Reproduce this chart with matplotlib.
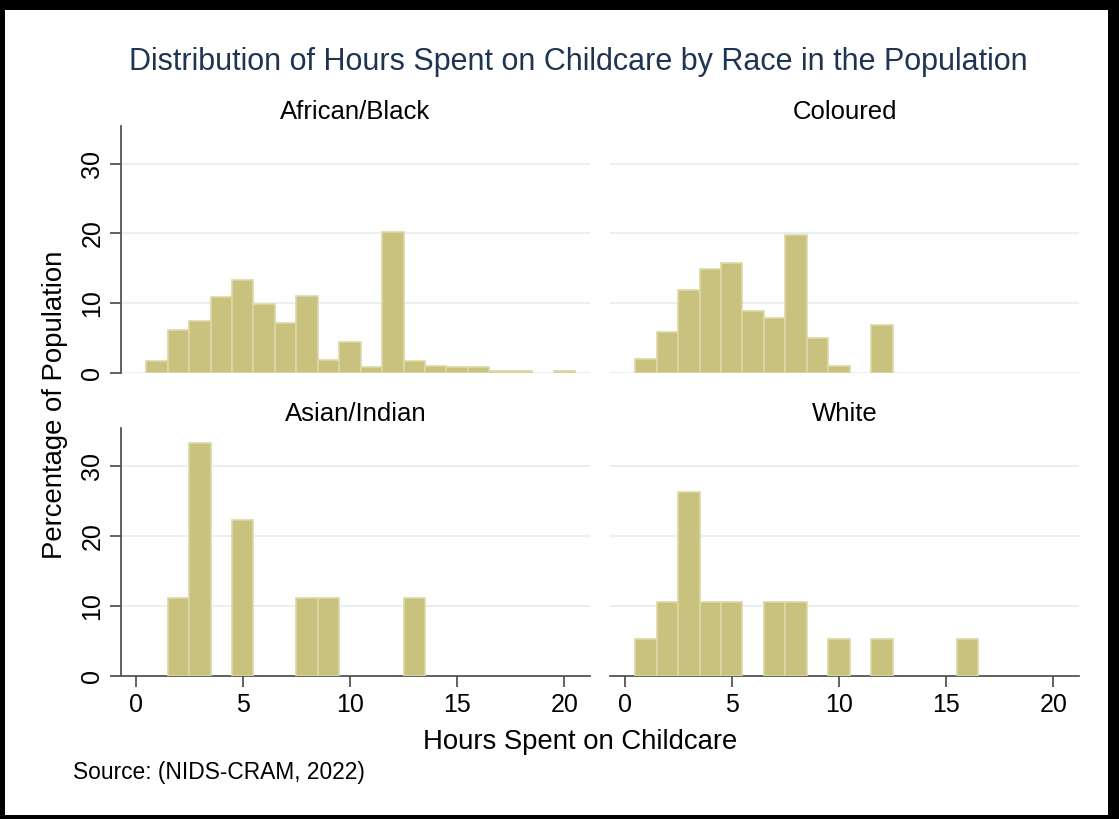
import matplotlib.pyplot as plt
from matplotlib.patches import Rectangle
import numpy as np

plt.rcParams['font.family'] = ['Liberation Sans', 'DejaVu Sans']

hours = np.arange(1, 21)

# percentages per hour bin (1..20)
african_black = [1.7, 6.2, 7.5, 10.9, 13.4, 9.9, 7.1, 11.0, 1.8, 4.5,
                 0.8, 20.2, 1.7, 1.05, 0.8, 0.8, 0.25, 0.33, 0.0, 0.33]
coloured = [2.0, 5.9, 11.9, 14.9, 15.8, 8.9, 7.9, 19.8, 5.0, 1.0,
            0, 6.9, 0, 0, 0, 0, 0, 0, 0, 0]
asian_indian = [0, 11.1, 33.3, 0, 22.2, 0, 0, 11.1, 11.1, 0,
                0, 0, 11.1, 0, 0, 0, 0, 0, 0, 0]
white = [5.3, 10.5, 26.3, 10.5, 10.5, 0, 10.5, 10.5, 0, 5.3,
         0, 5.3, 0, 0, 0, 5.3, 0, 0, 0, 0]

panels = [('African/Black', african_black), ('Coloured', coloured),
          ('Asian/Indian', asian_indian), ('White', white)]

W, H = 1119, 819
fig = plt.figure(figsize=(W / 100, H / 100), dpi=100)

# pixel boxes: left, top, right, bottom
boxes = [(121, 126, 590, 373), (610, 126, 1079, 373),
         (121, 428, 590, 676), (610, 428, 1079, 676)]

bar_color = '#c9c27f'
edge_color = '#dcd8a6'
grid_color = '#e8f0f2'
axis_color = '#555555'

for i, ((name, vals), (l, t, r, b)) in enumerate(zip(panels, boxes)):
    ax = fig.add_axes([l / W, 1 - b / H, (r - l) / W, (b - t) / H])
    vals = np.array(vals)
    keep = vals > 0
    ax.bar(hours[keep], vals[keep], width=1.0, color=bar_color,
           edgecolor=edge_color, linewidth=1.2, zorder=3)
    ax.set_xlim(-0.68, 21.2)
    ax.set_ylim(0, 35.4)
    ax.set_yticks([0, 10, 20, 30])
    ax.set_xticks([0, 5, 10, 15, 20])
    ax.grid(axis='y', color=grid_color, linewidth=1.5, zorder=0)
    ax.set_axisbelow(True)
    for s in ['top', 'right']:
        ax.spines[s].set_visible(False)
    left_col = i % 2 == 0
    bottom_row = i >= 2
    ax.spines['left'].set_visible(left_col)
    ax.spines['bottom'].set_visible(bottom_row)
    ax.spines['left'].set_color(axis_color)
    ax.spines['bottom'].set_color(axis_color)
    ax.spines['left'].set_linewidth(1.3)
    ax.spines['bottom'].set_linewidth(1.3)
    ax.tick_params(axis='y', length=8 if left_col else 0, width=1.3,
                   color=axis_color, labelleft=left_col, labelsize=18,
                   pad=4)
    ax.tick_params(axis='x', length=8 if bottom_row else 0, width=1.3,
                   color=axis_color, labelbottom=bottom_row, labelsize=18,
                   pad=4)
    if left_col:
        for lab in ax.get_yticklabels():
            lab.set_rotation(90)
            lab.set_va('center')
    if not bottom_row:
        ax.axhline(0, color=grid_color, linewidth=1.5, zorder=0)
    ax.set_title(name, fontsize=18.5, color='black', pad=5)

fig.text(578 / W, 1 - 62 / H, 'Distribution of Hours Spent on Childcare by Race in the Population',
         ha='center', va='center', fontsize=22, color='#1e3450')
fig.text(580 / W, 1 - 742 / H, 'Hours Spent on Childcare',
         ha='center', va='center', fontsize=19.8, color='black')
fig.text(55 / W, 1 - 405 / H, 'Percentage of Population', rotation=90,
         ha='center', va='center', fontsize=19.8, color='black')
fig.text(73 / W, 1 - 773 / H, 'Source: (NIDS-CRAM, 2022)',
         ha='left', va='center', fontsize=16.4, color='black')

# black frame around the picture
for x0, y0, w, h in [(0, 1 - 10 / H, 1, 10 / H), (0, 0, 5 / W, 1),
                     (1 - 11 / W, 0, 11 / W, 1), (0, 0, 1, 4 / H)]:
    fig.patches.append(Rectangle((x0, y0), w, h, transform=fig.transFigure,
                                 facecolor='black', edgecolor='none'))

fig.savefig('out.png', dpi=100)
